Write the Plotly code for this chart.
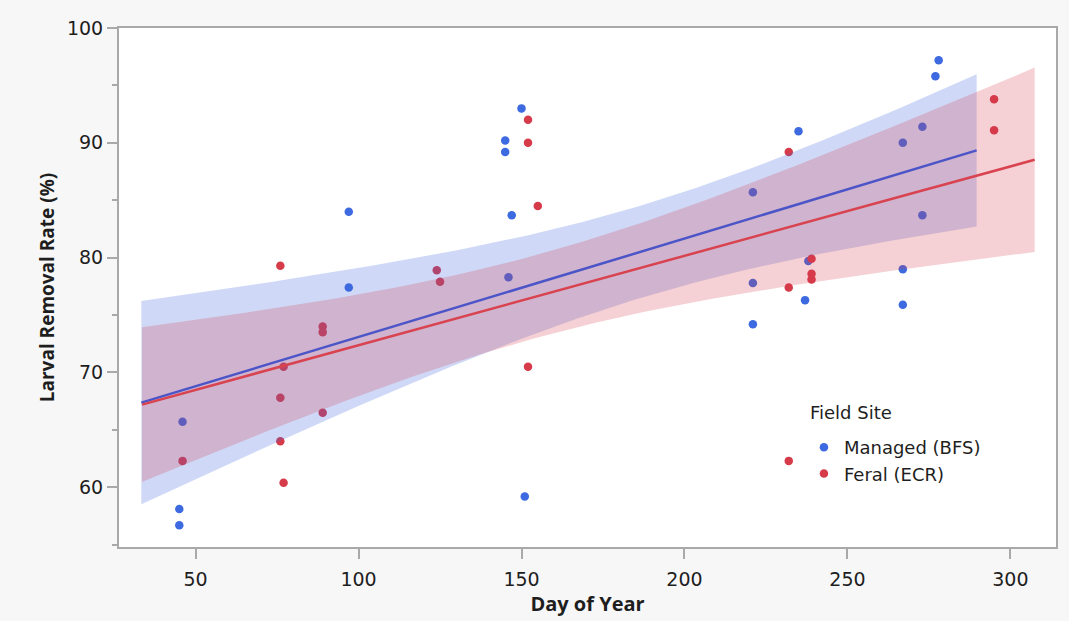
import numpy as np
import plotly.graph_objects as go

# Managed (BFS) site: day of year and larval removal rate (%)
bfs_day = [45, 45, 46, 97, 97, 145, 145, 150, 147, 146, 151, 221, 221, 221,
           235, 238, 237, 267, 267, 267, 273, 273, 277, 278]
bfs_rate = [58.1, 56.7, 65.7, 84.0, 77.4, 90.2, 89.2, 93.0, 83.7, 78.3, 59.2,
            85.7, 77.8, 74.2, 91.0, 79.7, 76.3, 90.0, 79.0, 75.9, 91.4, 83.7,
            95.8, 97.2]

# Feral (ECR) site
ecr_day = [46, 76, 77, 76, 89, 89, 89, 76, 77, 124, 125, 152, 152, 155, 152,
           232, 239, 239, 239, 232, 232, 295, 295]
ecr_rate = [62.3, 79.3, 70.5, 67.8, 74.0, 73.5, 66.5, 64.0, 60.4, 78.9, 77.9,
            92.0, 90.0, 84.5, 70.5, 89.2, 79.9, 78.6, 78.1, 77.4, 62.3, 93.8,
            91.1]

X_TICKS = [50, 100, 150, 200, 250, 300]
Y_TICKS = [60, 70, 80, 90, 100]
Y_MINOR = [55, 65, 75, 85, 95]

# two-sided 95% t critical values by residual degrees of freedom
T95 = {21: 2.080, 22: 2.074}

BLUE = "#3D6AE0"
RED = "#D63B4A"
BLUE_LINE = "#4C55C8"
RED_LINE = "#D8434F"
TEXT = "#1E1E1E"
AXIS_GREY = "#A9A9A9"


def fit_with_ci(xs, ys):
    x = np.asarray(xs, float)
    y = np.asarray(ys, float)
    n = len(x)
    slope, icept = np.polyfit(x, y, 1)
    resid = y - (icept + slope * x)
    s = np.sqrt(np.sum(resid ** 2) / (n - 2))
    xbar = x.mean()
    sxx = np.sum((x - xbar) ** 2)
    span = x.max() - x.min()
    grid = np.linspace(x.min() - 0.05 * span, x.max() + 0.05 * span, 120)
    yhat = icept + slope * grid
    half = T95[n - 2] * s * np.sqrt(1.0 / n + (grid - xbar) ** 2 / sxx)
    return grid, yhat, yhat - half, yhat + half


fig = go.Figure()

# observations (drawn first so the confidence bands tint them)
fig.add_trace(go.Scatter(x=bfs_day, y=bfs_rate, mode="markers", name="Managed (BFS)",
                         marker=dict(color=BLUE, size=8.5)))
fig.add_trace(go.Scatter(x=ecr_day, y=ecr_rate, mode="markers", name="Feral (ECR)",
                         marker=dict(color=RED, size=8.5)))

fits = [
    (bfs_day, bfs_rate, "rgba(64,105,225,0.25)", BLUE_LINE),
    (ecr_day, ecr_rate, "rgba(214,60,74,0.24)", RED_LINE),
]
computed = [fit_with_ci(d, r) for d, r, _, _ in fits]

for (d, r, band, _), (gx, yh, lo, hi) in zip(fits, computed):
    fig.add_trace(go.Scatter(
        x=np.concatenate([gx, gx[::-1]]), y=np.concatenate([hi, lo[::-1]]),
        fill="toself", fillcolor=band, line=dict(width=0), mode="lines",
        hoverinfo="skip", showlegend=False))

for (d, r, _, lc), (gx, yh, lo, hi) in zip(fits, computed):
    fig.add_trace(go.Scatter(x=gx, y=yh, mode="lines", line=dict(color=lc, width=2.5),
                             hoverinfo="skip", showlegend=False))

axis_common = dict(
    showline=True, linecolor=AXIS_GREY, linewidth=2, mirror=True,
    showgrid=False, zeroline=False, ticks="outside", ticklen=10,
    tickcolor=AXIS_GREY, tickwidth=1.5,
    tickfont=dict(family="DejaVu Sans", size=19, color=TEXT),
)

fig.update_layout(
    width=1069, height=621,
    margin=dict(l=119, r=11, t=28, b=74),
    paper_bgcolor="#F7F7F7", plot_bgcolor="#FFFFFF",
    xaxis=dict(range=[26.5, 314], tickvals=X_TICKS, ticklabelstandoff=4,
               title=dict(text="<b>Day of Year</b>", standoff=0,
                          font=dict(family="Open Sans", size=20, color=TEXT)),
               **axis_common),
    yaxis=dict(range=[54.8, 100], tickvals=Y_TICKS,
               minor=dict(tickvals=Y_MINOR, ticks="outside", ticklen=5,
                          tickcolor=AXIS_GREY),
               title=dict(text="<b>Larval Removal Rate (%)</b>", standoff=7,
                          font=dict(family="Open Sans", size=19, color=TEXT)),
               **axis_common),
    legend=dict(
        font=dict(family="DejaVu Sans", size=18, color=TEXT),
        x=0.731, y=0.2274, xanchor="left", yanchor="top",
        bgcolor="rgba(0,0,0,0)", itemwidth=30, tracegroupgap=0,
    ),
    annotations=[dict(
        text="Field Site", xref="paper", yref="paper", x=0.7356, y=0.260,
        xanchor="left", yanchor="middle", showarrow=False,
        font=dict(family="DejaVu Sans", size=18, color=TEXT),
    )],
)

fig.write_html("out.html")
